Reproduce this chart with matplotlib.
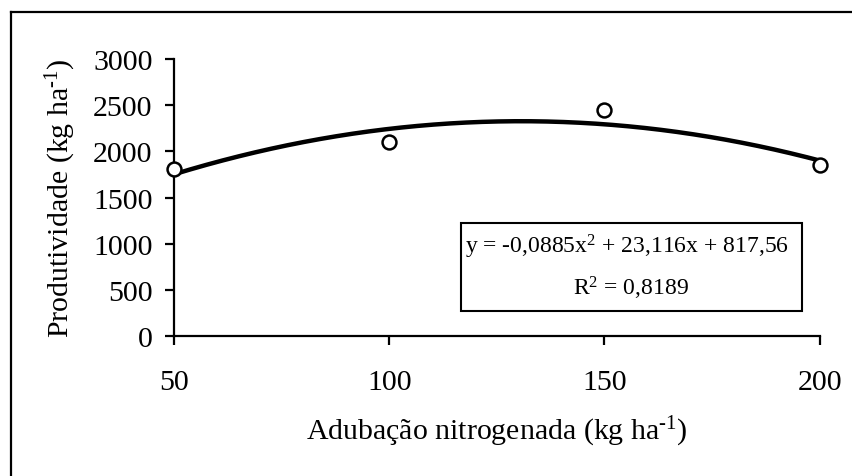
#!/usr/bin/env python3
"""
Produtividade em função da adubação nitrogenada, com ajuste quadrático.
"""
import numpy as np
import matplotlib
matplotlib.use('Agg')
import matplotlib.pyplot as plt
from matplotlib.lines import Line2D
from matplotlib.patches import Rectangle

plt.rcParams['font.family'] = ['Liberation Serif', 'DejaVu Serif']
plt.rcParams['mathtext.fontset'] = 'custom'
plt.rcParams['mathtext.rm'] = 'Liberation Serif'
plt.rcParams['mathtext.it'] = 'Liberation Serif:italic'

# dados observados
doses = [50, 100, 150, 200]
produtividade = [1810, 2100, 2445, 1850]

# coeficientes da equação mostrada no gráfico
coef = [-0.0885, 23.116, 817.56]

x_ticks = [50, 100, 150, 200]
y_ticks = [0, 500, 1000, 1500, 2000, 2500, 3000]

unidade = '(kg ha$^{\u2010' + '1}$)'

fig = plt.figure(figsize=(8.53, 4.77), dpi=100)
ax = fig.add_axes([0.204, 0.2935, 0.757, 0.5805])

# curva de tendência
xs = np.linspace(doses[0], doses[-1], 200)
ax.plot(xs, np.polyval(coef, xs), color='black', lw=3.2, zorder=2,
        clip_on=False)
ax.plot(doses, produtividade, 'o', ms=10, mfc='white', mec='black',
        mew=1.8, zorder=3, clip_on=False)

ax.set_xlim(50, 200)
ax.set_ylim(0, 3000)
ax.set_xticks(x_ticks)
ax.set_yticks(y_ticks)

for s in ['top', 'right']:
    ax.spines[s].set_visible(False)
for s in ['left', 'bottom']:
    ax.spines[s].set_linewidth(1.6)

ax.tick_params(axis='y', direction='out', length=6.5, width=1.6,
               pad=9, labelsize=21.5)
ax.tick_params(axis='x', direction='out', length=6.5, width=1.6,
               pad=17, labelsize=21.5)

ax.set_xlabel('Adubação nitrogenada ' + unidade, fontsize=21.5,
              labelpad=14)
ax.set_ylabel('Produtividade ' + unidade, fontsize=21.5, labelpad=11)

# caixa da equação
ax.add_patch(Rectangle((0.444, 0.090), 0.528, 0.318,
                       transform=ax.transAxes, fill=False,
                       ec='black', lw=1.5))
ax.text(0.702, 0.325, 'y = -0,0885x$^{2}$ + 23,116x + 817,56',
        transform=ax.transAxes, ha='center', va='center', fontsize=17)
ax.text(0.708, 0.175, 'R$^{2}$ = 0,8189', transform=ax.transAxes,
        ha='center', va='center', fontsize=17)

# moldura externa
fig.add_artist(Line2D([11 / 853, 1.0], [1 - 13 / 477, 1 - 13 / 477],
                      transform=fig.transFigure, color='black', lw=1.6))
fig.add_artist(Line2D([11 / 853, 11 / 853], [0.0, 1 - 13 / 477],
                      transform=fig.transFigure, color='black', lw=1.6))

fig.savefig('out.png', dpi=100)
